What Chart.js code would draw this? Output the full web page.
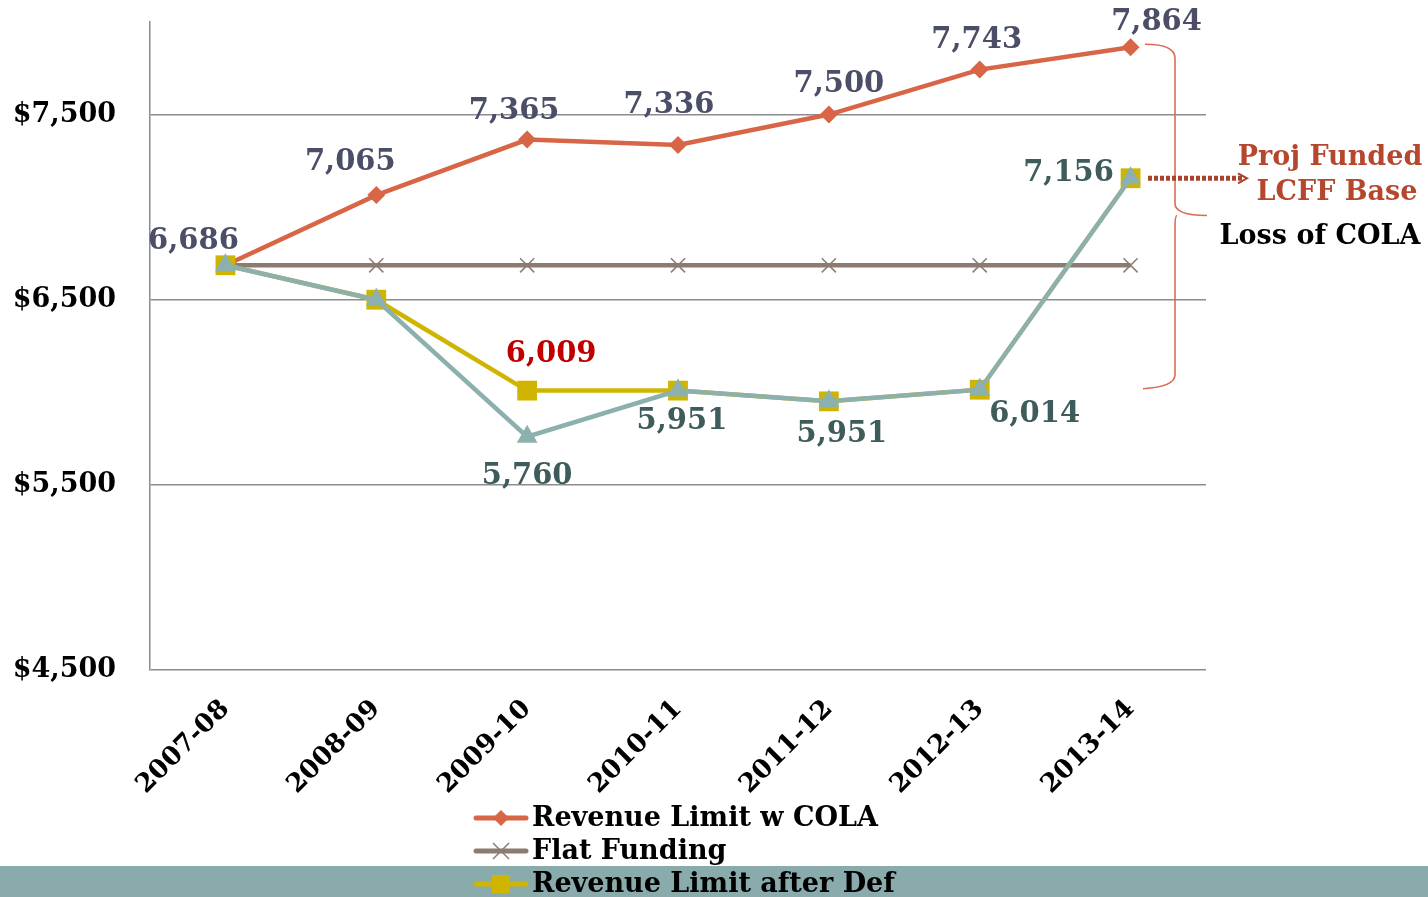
<!DOCTYPE html>
<html>
<head>
<meta charset="utf-8">
<script src="https://cdn.jsdelivr.net/npm/chart.js@4/dist/chart.umd.min.js"></script>
<style>
  html, body { margin: 0; padding: 0; background: #ffffff; }
  #wrap { position: relative; width: 1428px; height: 897px; }
  #band { position: absolute; left: 0; top: 866px; width: 1428px; height: 31px; background: #8aabab; }
  canvas { position: absolute; left: 0; top: 0; }
</style>
</head>
<body>
<div id="wrap">
  <div id="band"></div>
  <canvas id="c" width="1428" height="897"></canvas>
</div>
<script>
// ---- data ----
const categories = ['2007-08', '2008-09', '2009-10', '2010-11', '2011-12', '2012-13', '2013-14'];
const revenueWithCola = [6686, 7065, 7365, 7336, 7500, 7743, 7864];
const flatFunding = [6686, 6686, 6686, 6686, 6686, 6686, 6686];
const revenueAfterDef = [6686, 6500, 6009, 6009, 5951, 6014, 7156];
const lcffProjection = [6686, 6500, 5760, 6009, 5951, 6014, 7156];
const colaLabels = ['6,686', '7,065', '7,365', '7,336', '7,500', '7,743', '7,864'];
const afterDefLabels = [null, null, '6,009', null, null, null, null];
const lcffLabels = [null, null, '5,760', '5,951', '5,951', '6,014', '7,156'];
const yTicks = [4500, 5500, 6500, 7500];
const seriesNames = ['Revenue Limit w COLA', 'Flat Funding', 'Revenue Limit after Def'];
const noteLines = ['Proj Funded', 'LCFF Base'];
const noteLoss = 'Loss of COLA';

// ---- styles ----
const FONT = '"DejaVu Serif", "Liberation Serif", serif';
const C_COLA = '#d86646';
const C_FLAT = '#8c7b72';
const C_DEF = '#cfb400';
const C_LCFF = '#8cb0ad';
const C_NOTE = '#b5472e';

// label offsets (pixels) relative to points
const colaOffsets = [[-32, -24], [-26, -33], [-13, -28], [-9, -39], [10, -30], [-3, -29], [26, -25]];
const defOffsets = [null, null, [24, -36], null, null, null, null];
const lcffOffsets = [null, null, [0, 40], [4, 31], [13, 33], [55, 25], [-62, -5]];

const labelPlugin = {
  id: 'labels',
  afterDatasetsDraw(chart) {
    const ctx = chart.ctx;
    const groups = [
      { ds: 0, labels: colaLabels, offs: colaOffsets, color: '#4a4e67' },
      { ds: 2, labels: afterDefLabels, offs: defOffsets, color: '#c00000' },
      { ds: 3, labels: lcffLabels, offs: lcffOffsets, color: '#3e5c5c' }
    ];
    ctx.save();
    ctx.font = 'bold 29px ' + FONT;
    ctx.textAlign = 'center';
    ctx.textBaseline = 'middle';
    groups.forEach(g => {
      const meta = chart.getDatasetMeta(g.ds);
      g.labels.forEach((t, i) => {
        if (!t) return;
        const p = meta.data[i];
        ctx.fillStyle = g.color;
        ctx.fillText(t, p.x + g.offs[i][0], p.y + g.offs[i][1]);
      });
    });
    ctx.restore();
  }
};

const annotationPlugin = {
  id: 'annot',
  afterDraw(chart) {
    const ctx = chart.ctx;
    const ys = chart.scales.y;
    const meta3 = chart.getDatasetMeta(3);
    const last = meta3.data.length - 1;
    const topY = ys.getPixelForValue(revenueWithCola[last]) - 3;
    const botY = ys.getPixelForValue(revenueAfterDef[5]) - 3;
    const midY = (topY + botY) / 2;
    const x0 = 1145, xv = 1175, xt = 1207;
    ctx.save();
    // brace
    ctx.strokeStyle = '#dc6a55';
    ctx.lineWidth = 1.6;
    ctx.beginPath();
    ctx.moveTo(x0, topY);
    ctx.quadraticCurveTo(xv, topY, xv, topY + 14);
    ctx.lineTo(xv, midY - 12);
    ctx.quadraticCurveTo(xv, midY, xt, midY);
    ctx.moveTo(xv, midY + 12);
    ctx.quadraticCurveTo(xv, midY, xt - 30, midY);
    ctx.moveTo(xv, midY + 12);
    ctx.lineTo(xv, botY - 12);
    ctx.quadraticCurveTo(xv, botY, x0 - 2, botY + 2);
    ctx.stroke();
    // dashed arrow
    const ay = meta3.data[last].y;
    ctx.strokeStyle = '#a8432c';
    ctx.lineWidth = 5;
    ctx.setLineDash([4, 2]);
    ctx.beginPath();
    ctx.moveTo(1148, ay);
    ctx.lineTo(1242, ay);
    ctx.stroke();
    ctx.setLineDash([]);
    ctx.lineWidth = 2;
    ctx.beginPath();
    ctx.moveTo(1238, ay - 5);
    ctx.lineTo(1247, ay);
    ctx.lineTo(1238, ay + 5);
    ctx.stroke();
    // texts
    ctx.font = 'bold 27px ' + FONT;
    ctx.textAlign = 'center';
    ctx.textBaseline = 'middle';
    ctx.fillStyle = C_NOTE;
    ctx.fillText(noteLines[0], 1330, 158);
    ctx.fillText(noteLines[1], 1337, 193);
    ctx.fillStyle = '#000000';
    ctx.fillText(noteLoss, 1320, 237);
    ctx.restore();
  }
};

const legendPlugin = {
  id: 'customLegend',
  afterDraw(chart) {
    const ctx = chart.ctx;
    const rows = [
      { color: C_COLA, style: 'rectRot' },
      { color: C_FLAT, style: 'crossRot' },
      { color: C_DEF, style: 'rect' }
    ];
    ctx.save();
    rows.forEach((r, i) => {
      const y = 818 + i * 33;
      ctx.strokeStyle = r.color;
      ctx.lineWidth = 5;
      ctx.lineCap = 'round';
      ctx.beginPath();
      ctx.moveTo(476, y);
      ctx.lineTo(526, y);
      ctx.stroke();
      ctx.lineCap = 'butt';
      ctx.fillStyle = r.color;
      if (r.style === 'rectRot') {
        ctx.beginPath();
        ctx.moveTo(501, y - 8); ctx.lineTo(509, y); ctx.lineTo(501, y + 8); ctx.lineTo(493, y);
        ctx.closePath(); ctx.fill();
      } else if (r.style === 'crossRot') {
        ctx.lineWidth = 1.5;
        ctx.beginPath();
        ctx.moveTo(493, y - 8); ctx.lineTo(509, y + 8);
        ctx.moveTo(509, y - 8); ctx.lineTo(493, y + 8);
        ctx.stroke();
      } else {
        ctx.fillRect(492, y - 9, 18, 18);
      }
      ctx.fillStyle = '#000000';
      ctx.font = 'bold 27px ' + FONT;
      ctx.textAlign = 'left';
      ctx.textBaseline = 'middle';
      ctx.fillText(seriesNames[i], 532, y + 1);
    });
    ctx.restore();
  }
};

new Chart(document.getElementById('c'), {
  type: 'line',
  data: {
    labels: categories,
    datasets: [
      {
        label: seriesNames[0], data: revenueWithCola, order: 2,
        borderColor: C_COLA, backgroundColor: C_COLA, borderWidth: 4.5,
        pointStyle: 'rectRot', pointRadius: 9, pointBorderWidth: 0
      },
      {
        label: seriesNames[1], data: flatFunding, order: 3,
        borderColor: C_FLAT, backgroundColor: C_FLAT, borderWidth: 4.5,
        pointStyle: 'crossRot', pointRadius: 10, pointBorderWidth: 1.5
      },
      {
        label: seriesNames[2], data: revenueAfterDef, order: 1,
        borderColor: C_DEF, backgroundColor: C_DEF, borderWidth: 4.5,
        pointStyle: 'rect', pointRadius: 14, pointBorderWidth: 0
      },
      {
        label: 'LCFF', data: lcffProjection, order: 0,
        borderColor: C_LCFF, backgroundColor: C_LCFF, borderWidth: 4.5,
        pointStyle: 'triangle', pointRadius: 12, pointBorderWidth: 0
      }
    ]
  },
  options: {
    responsive: false,
    animation: false,
    layout: { padding: { top: 22, right: 222, left: 0, bottom: 0 } },
    plugins: { legend: { display: false }, tooltip: { enabled: false } },
    elements: { line: { tension: 0 } },
    scales: {
      x: {
        offset: true,
        grid: { display: false },
        border: { display: false },
        ticks: {
          color: '#000000',
          font: { family: FONT, size: 26, weight: 'bold' },
          minRotation: 45, maxRotation: 45, padding: 16
        },
        afterFit(scale) { scale.height = 227; scale.paddingLeft = 0; scale.paddingRight = 0; }
      },
      y: {
        min: 4500, max: 8000,
        afterBuildTicks(scale) { scale.ticks = yTicks.map(v => ({ value: v })); },
        grid: { color: '#8c8c8c', lineWidth: 1.5, drawTicks: false },
        border: { color: '#8c8c8c', width: 1.5 },
        ticks: {
          color: '#000000',
          padding: 34,
          font: { family: FONT, size: 27, weight: 'bold' },
          callback: v => '$' + v.toLocaleString('en-US')
        },
        afterFit(scale) { scale.width = 150; scale.paddingTop = 0; scale.paddingBottom = 0; }
      }
    }
  },
  plugins: [labelPlugin, annotationPlugin, legendPlugin]
});
</script>
</body>
</html>
